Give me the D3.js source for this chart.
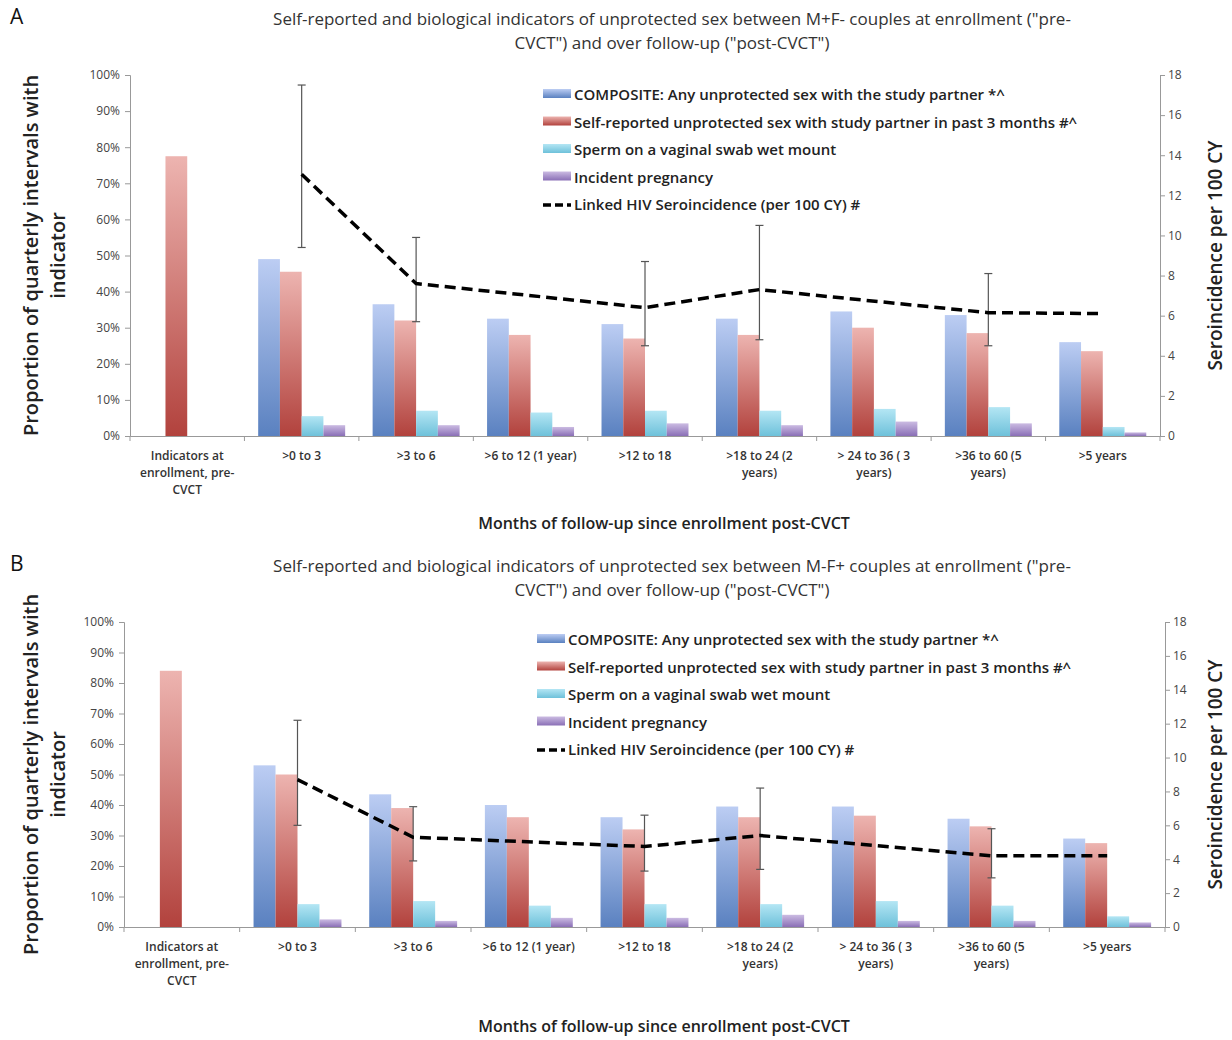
<!DOCTYPE html>
<html><head><meta charset="utf-8">
<script src="https://cdn.jsdelivr.net/npm/d3@7"></script>
<style>
body{margin:0;background:#fff;}
text{font-family:"Open Sans",sans-serif;}
</style></head>
<body><svg id="chart" width="1232" height="1040"></svg>
<script>
const categories = [
  "Indicators at|enrollment, pre-|CVCT", ">0 to 3", ">3 to 6", ">6 to 12 (1 year)",
  ">12 to 18", ">18 to 24 (2|years)", "> 24 to 36 ( 3|years)", ">36 to 60 (5|years)", ">5 years"
];
const seriesNames = [
  "COMPOSITE: Any unprotected sex with the study partner *^",
  "Self-reported unprotected sex with study partner in past 3 months #^",
  "Sperm on a vaginal swab wet mount",
  "Incident pregnancy"
];
const lineName = "Linked HIV Seroincidence (per 100 CY) #";
const leftTicks = [0, 10, 20, 30, 40, 50, 60, 70, 80, 90, 100];
const rightTicks = [0, 2, 4, 6, 8, 10, 12, 14, 16, 18];

// Panel A (M+F-)
const aComposite = [null, 49, 36.5, 32.5, 31, 32.5, 34.5, 33.5, 26];
const aSelf = [77.5, 45.5, 32, 28, 27, 28, 30, 28.5, 23.5];
const aSperm = [null, 5.5, 7, 6.5, 7, 7, 7.5, 8, 2.5];
const aPreg = [null, 3, 3, 2.5, 3.5, 3, 4, 3.5, 1];
const aHiv = [null, 13.05, 7.6, null, 6.4, 7.3, null, 6.15, 6.1];
const aHivLo = [null, 9.4, 5.7, null, 4.5, 4.8, null, 4.5, null];
const aHivHi = [null, 17.5, 9.9, null, 8.7, 10.5, null, 8.1, null];

// Panel B (M-F+)
const bComposite = [null, 53, 43.5, 40, 36, 39.5, 39.5, 35.5, 29];
const bSelf = [84, 50, 39, 36, 32, 36, 36.5, 33, 27.5];
const bSperm = [null, 7.5, 8.5, 7, 7.5, 7.5, 8.5, 7, 3.5];
const bPreg = [null, 2.5, 2, 3, 3, 4, 2, 2, 1.5];
const bHiv = [null, 8.7, 5.3, null, 4.75, 5.4, null, 4.2, 4.2];
const bHivLo = [null, 6.0, 3.9, null, 3.3, 3.4, null, 2.9, null];
const bHivHi = [null, 12.2, 7.1, null, 6.6, 8.2, null, 5.8, null];

const grads = [["#bccdf3", "#5a81c0"], ["#edb4b0", "#b2423d"], ["#b4e6f4", "#6ec1da"], ["#cbbbe2", "#8a6fb6"]];

const svg = d3.select("#chart");
const defs = svg.append("defs");
grads.forEach((g, i) => {
  const lg = defs.append("linearGradient").attr("id", "g" + i)
    .attr("x1", 0).attr("y1", 0).attr("x2", 0).attr("y2", 1);
  lg.append("stop").attr("offset", "0%").attr("stop-color", g[0]);
  lg.append("stop").attr("offset", "100%").attr("stop-color", g[1]);
});

function drawPanel(p) {
  const g = svg.append("g");
  g.append("text").attr("x", 10).attr("y", p.top - 51).attr("font-size", 21).attr("fill", "#111").text(p.letter);
  p.title.forEach((t, i) => g.append("text").attr("x", 672).attr("y", p.top - 50 + i * 24)
    .attr("text-anchor", "middle").attr("font-size", 17).attr("fill", "#333").text(t));

  const x = d3.scaleBand().domain(d3.range(categories.length)).range([p.left, p.right]);
  const y = d3.scaleLinear().domain([0, 100]).range([p.bottom, p.top]);
  const y2 = d3.scaleLinear().domain([0, 18]).range([p.bottom, p.top]);
  const inner = d3.scaleBand().domain(d3.range(4)).range([x.bandwidth() * 0.12, x.bandwidth() * 0.88]);

  const axL = g.append("g").attr("transform", `translate(${p.left},0)`)
    .call(d3.axisLeft(y).tickValues(leftTicks).tickFormat(d => d + "%").tickSize(5));
  const axR = g.append("g").attr("transform", `translate(${p.right},0)`)
    .call(d3.axisRight(y2).tickValues(rightTicks).tickSize(5));
  const axB = g.append("g").attr("transform", `translate(0,${p.bottom})`)
    .call(d3.axisBottom(x).tickSize(0).tickFormat(""));
  [axL, axR, axB].forEach(a => {
    a.selectAll("path,line").attr("stroke", "#999");
    a.selectAll("text").attr("font-size", 12).attr("fill", "#444");
  });
  axL.selectAll("text").attr("dx", -2);
  g.selectAll(".sep").data(d3.range(categories.length + 1)).join("line")
    .attr("x1", i => p.left + i * x.step()).attr("x2", i => p.left + i * x.step())
    .attr("y1", p.bottom).attr("y2", p.bottom + 5).attr("stroke", "#999");
  categories.forEach((c, i) => {
    c.split("|").forEach((ln, j) => g.append("text").attr("x", x(i) + x.bandwidth() / 2)
      .attr("y", p.bottom + 24 + j * 17).attr("text-anchor", "middle").attr("font-size", 12)
      .attr("font-weight", 600).attr("fill", "#333").text(ln));
  });

  p.series.forEach((vals, s) => {
    g.selectAll(null).data(vals.map((v, i) => ({ v, i })).filter(d => d.v != null)).join("rect")
      .attr("x", d => x(d.i) + inner(s)).attr("width", inner.bandwidth())
      .attr("y", d => y(d.v)).attr("height", d => p.bottom - y(d.v))
      .attr("fill", `url(#g${s})`);
  });

  const pts = p.hiv.map((v, i) => ({ v, i, lo: p.lo[i], hi: p.hi[i] })).filter(d => d.v != null);
  const cx = d => x(d.i) + x.bandwidth() / 2;
  g.selectAll(null).data(pts.filter(d => d.lo != null)).join("g").each(function (d) {
    const e = d3.select(this);
    e.append("line").attr("x1", cx(d)).attr("x2", cx(d)).attr("y1", y2(d.lo)).attr("y2", y2(d.hi)).attr("stroke", "#555").attr("stroke-width", 1.2);
    [d.lo, d.hi].forEach(v => e.append("line").attr("x1", cx(d) - 4).attr("x2", cx(d) + 4)
      .attr("y1", y2(v)).attr("y2", y2(v)).attr("stroke", "#555").attr("stroke-width", 1.2));
  });
  g.append("path").datum(pts)
    .attr("d", d3.line().x(cx).y(d => y2(d.v)))
    .attr("fill", "none").attr("stroke", "#000").attr("stroke-width", 3.5).attr("stroke-dasharray", "11,6");

  const lg = g.append("g");
  seriesNames.forEach((n, i) => {
    const ly = p.legY + i * 27.5;
    lg.append("rect").attr("x", p.legX).attr("y", ly - 6).attr("width", 28).attr("height", 9).attr("fill", `url(#g${i})`);
    lg.append("text").attr("x", p.legX + 31).attr("y", ly + 5).attr("font-size", 15).attr("font-weight", 600).attr("fill", "#222").text(n);
  });
  const ly = p.legY + 4 * 27.5;
  lg.append("line").attr("x1", p.legX).attr("x2", p.legX + 28).attr("y1", ly).attr("y2", ly)
    .attr("stroke", "#000").attr("stroke-width", 3.5).attr("stroke-dasharray", "8,4");
  lg.append("text").attr("x", p.legX + 31).attr("y", ly + 5).attr("font-size", 15).attr("font-weight", 600).attr("fill", "#222").text(lineName);

  const my = (p.top + p.bottom) / 2;
  const yt = g.append("text").attr("transform", `translate(38,${my}) rotate(-90)`).attr("text-anchor", "middle")
    .attr("font-size", 20).attr("font-weight", 600).attr("fill", "#222");
  yt.append("tspan").attr("x", 0).attr("dy", 0).text("Proportion of quarterly intervals with");
  yt.append("tspan").attr("x", 0).attr("dy", 27).text("indicator");
  g.append("text").attr("transform", `translate(1222,${my}) rotate(-90)`).attr("text-anchor", "middle")
    .attr("font-size", 19).attr("font-weight", 600).attr("fill", "#222").text("Seroincidence per 100 CY");
  g.append("text").attr("x", 664).attr("y", p.bottom + p.xtOff).attr("text-anchor", "middle")
    .attr("font-size", 16).attr("font-weight", 600).attr("fill", "#222").text("Months of follow-up since enrollment post-CVCT");
}

drawPanel({
  letter: "A", top: 75, bottom: 436, left: 130, right: 1160, legX: 543, legY: 95, xtOff: 93,
  title: ["Self-reported and biological indicators of unprotected sex between M+F- couples at enrollment (\"pre-", "CVCT\") and over follow-up (\"post-CVCT\")"],
  series: [aComposite, aSelf, aSperm, aPreg], hiv: aHiv, lo: aHivLo, hi: aHivHi
});
drawPanel({
  letter: "B", top: 622, bottom: 927, left: 124, right: 1165, legX: 537, legY: 640, xtOff: 105,
  title: ["Self-reported and biological indicators of unprotected sex between M-F+ couples at enrollment (\"pre-", "CVCT\") and over follow-up (\"post-CVCT\")"],
  series: [bComposite, bSelf, bSperm, bPreg], hiv: bHiv, lo: bHivLo, hi: bHivHi
});
</script></body></html>
